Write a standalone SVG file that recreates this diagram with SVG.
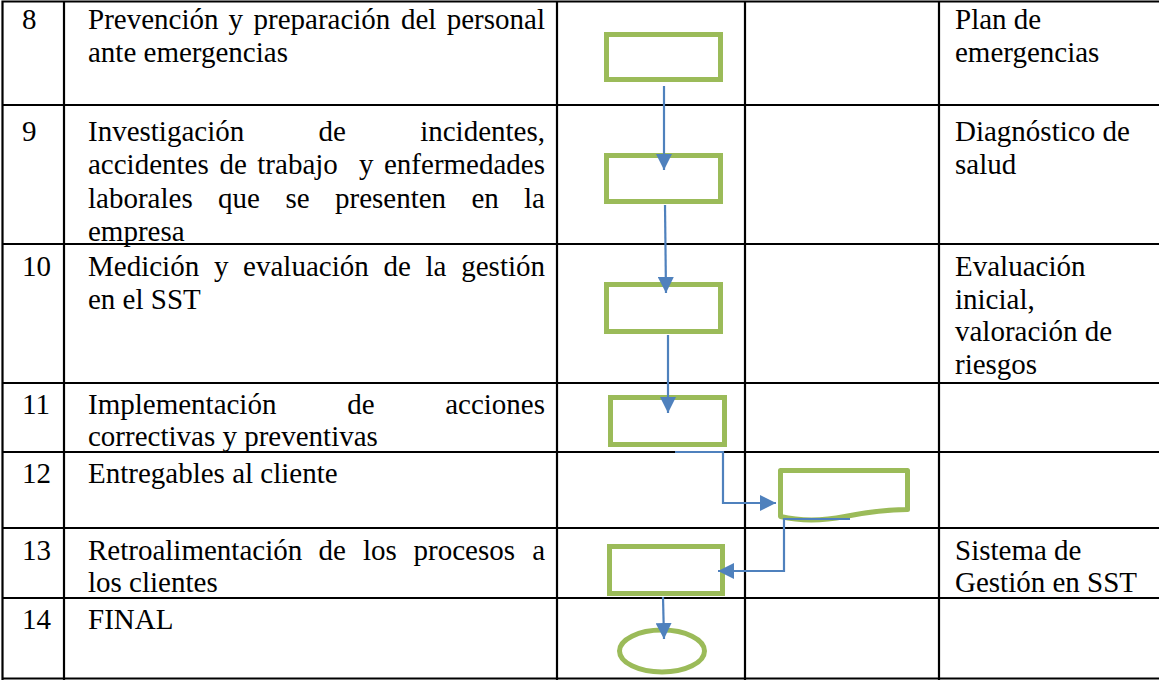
<svg xmlns="http://www.w3.org/2000/svg" width="1159" height="680" viewBox="0 0 1159 680">
<style>
.t{font-family:"Liberation Serif","Times New Roman",serif;font-size:29px;fill:#000}
.e{text-anchor:end}
.grid{stroke:#000;stroke-width:2.2;fill:none}
.shape{fill:#fff;stroke:#9BBB59;stroke-width:5}
.conn{fill:none;stroke:#4F81BD;stroke-width:2.2}
</style>
<defs>
<marker id="ah" markerUnits="userSpaceOnUse" markerWidth="16" markerHeight="16" viewBox="0 0 16 16" refX="16" refY="8" orient="auto">
<path d="M0,0 L16,8 L0,16 Z" fill="#4F81BD"/>
</marker>
</defs>
<rect width="1159" height="680" fill="#fff"/>
<g id="table">
<path class="grid" d="M2.5,1.5 H1159 M2.5,105 H1159 M2.5,244 H1159 M2.5,383 H1159 M2.5,452 H1159 M2.5,528 H1159 M2.5,598 H1159 M2.5,678.5 H1159 M2.5,0.5 V680 M64,0.5 V680 M557,0.5 V680 M745,0.5 V680 M939,0.5 V680"/>
</g>
<g id="row8">
<text class="t" x="22" y="29">8</text>
<text class="t" y="29"><tspan x="88">Prevención</tspan><tspan x="228.5">y</tspan><tspan x="253.5">preparación</tspan><tspan x="401">del</tspan></text>
<text class="t e" x="545" y="29">personal</text>
<text class="t" x="88" y="62">ante emergencias</text>
<text class="t" y="29"><tspan x="955">Plan de</tspan><tspan x="955" dy="33">emergencias</tspan></text>
</g>
<g id="row9">
<text class="t" x="22" y="141">9</text>
<text class="t" y="141"><tspan x="88">Investigación</tspan><tspan x="318.5">de</tspan></text>
<text class="t e" x="545" y="141">incidentes,</text>
<text class="t" y="174"><tspan x="88">accidentes</tspan><tspan x="219.4">de</tspan><tspan x="257.3">trabajo</tspan><tspan x="358.9">y</tspan></text>
<text class="t e" x="545" y="174">enfermedades</text>
<text class="t" y="208"><tspan x="88">laborales</tspan><tspan x="218.1">que</tspan><tspan x="285.4">se</tspan><tspan x="335">presenten</tspan><tspan x="471.5">en</tspan></text>
<text class="t e" x="545" y="208">la</text>
<text class="t" x="88" y="241">empresa</text>
<text class="t" y="141"><tspan x="955">Diagnóstico de</tspan><tspan x="955" dy="33">salud</tspan></text>
</g>
<g id="row10">
<text class="t" x="22" y="276">10</text>
<text class="t" y="276"><tspan x="88">Medición</tspan><tspan x="213.9">y</tspan><tspan x="243.1">evaluación</tspan><tspan x="383.4">de</tspan><tspan x="425.5">la</tspan></text>
<text class="t e" x="545" y="276">gestión</text>
<text class="t" x="88" y="309">en el SST</text>
<text class="t" y="276"><tspan x="955">Evaluación</tspan><tspan x="955" dy="32.5">inicial,</tspan><tspan x="955" dy="32.5">valoración de</tspan><tspan x="955" dy="32.5">riesgos</tspan></text>
</g>
<g id="row11">
<text class="t" x="22" y="414">11</text>
<text class="t" y="414"><tspan x="88">Implementación</tspan><tspan x="347.2">de</tspan></text>
<text class="t e" x="545" y="414">acciones</text>
<text class="t" x="88" y="446">correctivas y preventivas</text>
</g>
<g id="row12">
<text class="t" x="22" y="483">12</text>
<text class="t" x="88" y="483">Entregables al cliente</text>
</g>
<g id="row13">
<text class="t" x="22" y="560">13</text>
<text class="t" y="560"><tspan x="88">Retroalimentación</tspan><tspan x="318.6">de</tspan><tspan x="362.9">los</tspan><tspan x="413.6">procesos</tspan></text>
<text class="t e" x="545" y="560">a</text>
<text class="t" x="88" y="592">los clientes</text>
<text class="t" y="560"><tspan x="955">Sistema de</tspan><tspan x="955" dy="32">Gestión en SST</tspan></text>
</g>
<g id="row14">
<text class="t" x="22" y="629">14</text>
<text class="t" x="88" y="629">FINAL</text>
</g>
<g id="node-8"><rect class="shape" x="606.5" y="34.5" width="114" height="45"/></g>
<g id="node-9"><rect class="shape" x="606.5" y="155.5" width="114" height="46"/></g>
<g id="node-10"><rect class="shape" x="606.5" y="284.5" width="114" height="47"/></g>
<g id="node-11"><rect class="shape" x="610.5" y="397.5" width="114" height="47"/></g>
<g id="node-12"><path class="shape" stroke-linejoin="round" d="M780.5,470.5 H907.5 V509.5 C888,509.5 868,512 845,516.5 C822,521 800,521 780.5,516.5 Z"/></g>
<g id="node-13"><rect class="shape" x="609.5" y="546.5" width="113" height="47"/></g>
<g id="node-14"><ellipse class="shape" cx="662" cy="651" rx="42.5" ry="21"/></g>
<g id="connectors">
<path class="conn" d="M664,86 V170" marker-end="url(#ah)"/>
<path class="conn" d="M665,205 L666,293" marker-end="url(#ah)"/>
<path class="conn" d="M668,335 V413" marker-end="url(#ah)"/>
<path class="conn" d="M675,452 H723 V503 H776" marker-end="url(#ah)"/>
<path class="conn" d="M850,519 H784 V571 H718" marker-end="url(#ah)"/>
<path class="conn" d="M663,597 L664,639" marker-end="url(#ah)"/>
</g>
</svg>
